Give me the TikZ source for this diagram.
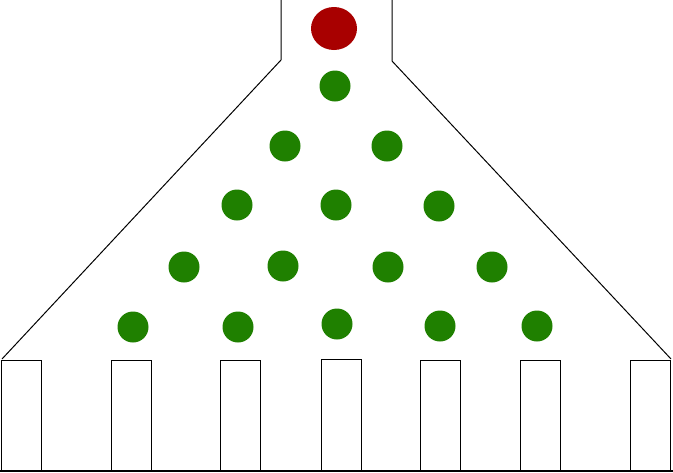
\documentclass[tikz,border=0pt]{standalone}
\usepackage{amsmath}

\begin{document}
\begin{tikzpicture}[x=0.03cm, y=-0.03cm, line width=0.85pt,
  peg/.style={fill={rgb,255:red,31;green,128;blue,0}},
  ball/.style={fill={rgb,255:red,168;green,0;blue,0}}]
\useasboundingbox (0,0) rectangle (673,472);
% funnel
\draw (281,0)--(281,60)--(2,359);
\draw (392,0)--(392,61)--(671,359);
\fill[ball] (334,28.5) ellipse (0.69cm and 0.645cm);
% pegs
\fill[peg] (335,86) circle (0.465cm);
\fill[peg] (285,146) circle (0.465cm);
\fill[peg] (387,146) circle (0.465cm);
\fill[peg] (237,205) circle (0.465cm);
\fill[peg] (336,205) circle (0.465cm);
\fill[peg] (439,206) circle (0.465cm);
\fill[peg] (184,267) circle (0.465cm);
\fill[peg] (283,266) circle (0.465cm);
\fill[peg] (388,267) circle (0.465cm);
\fill[peg] (492,267) circle (0.465cm);
\fill[peg] (133,327) circle (0.465cm);
\fill[peg] (238,327) circle (0.465cm);
\fill[peg] (337,324) circle (0.465cm);
\fill[peg] (440,326) circle (0.465cm);
\fill[peg] (537,326) circle (0.465cm);
% bins
\draw (1,471)--(1,360)--(41,360)--(41,471);
\draw (111,471)--(111,360)--(151,360)--(151,471);
\draw (220,471)--(220,360)--(260,360)--(260,471);
\draw (321,471)--(321,359)--(361,359)--(361,471);
\draw (420,471)--(420,360)--(460,360)--(460,471);
\draw (520,471)--(520,360)--(560,360)--(560,471);
\draw (630,471)--(630,360)--(670,360)--(670,471);
\draw[line width=1.1pt] (0,471)--(673,471);
\end{tikzpicture}
\end{document}
